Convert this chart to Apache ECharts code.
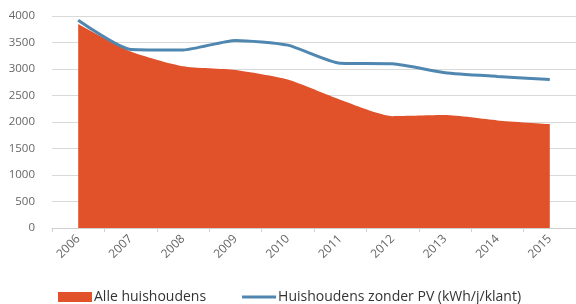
<!DOCTYPE html>
<html>
<head>
    <meta charset="utf-8" />
    <script src="https://cdn.jsdelivr.net/npm/echarts@6/dist/echarts.min.js"></script>
    <style>
        html, body { margin: 0; padding: 0; background: #fff; }
        #main { width: 576px; height: 304px; }
    </style>
</head>
<body>
    <div id="main"></div>
    <script type="text/javascript">
        var years = ['2006', '2007', '2008', '2009', '2010', '2011', '2012', '2013', '2014', '2015'];
        var alleHuishoudens = [3850, 3330, 3050, 2980, 2800, 2420, 2110, 2130, 2030, 1960];
        var zonderPV = [3920, 3370, 3360, 3540, 3450, 3110, 3100, 2930, 2860, 2800];
        var yTicks = [0, 500, 1000, 1500, 2000, 2500, 3000, 3500, 4000];

        var myChart = echarts.init(document.getElementById('main'));

        var option = {
            animation: false,
            backgroundColor: '#fff',
            textStyle: { fontFamily: 'Open Sans' },
            legend: {
                top: 285,
                left: 53,
                itemGap: 36,
                itemWidth: 34,
                itemHeight: 10,
                textStyle: { color: '#333', fontSize: 14, padding: [0, 0, 0, -3] },
                data: [
                    { name: 'Alle huishoudens', icon: 'path://M0,0 L34,0 L34,10 L0,10 Z' },
                    { name: 'Huishoudens zonder PV (kWh/j/klant)', icon: 'path://M0,0 L34,0 L34,3 L0,3 Z' }
                ]
            },
            grid: { left: 52, right: 0, top: 16, bottom: 76 },
            xAxis: {
                type: 'category',
                data: years,
                boundaryGap: true,
                axisLine: { lineStyle: { color: '#d0d0d0' } },
                axisTick: { show: true, length: 4, lineStyle: { color: '#d0d0d0' } },
                axisLabel: { rotate: 45, color: '#666', fontSize: 12, margin: 9 }
            },
            yAxis: {
                type: 'value',
                min: yTicks[0],
                max: yTicks[yTicks.length - 1],
                interval: 500,
                axisLine: { show: false },
                axisTick: { show: false },
                axisLabel: {
                    color: '#666', fontSize: 11.5, margin: 17,
                    formatter: function (v) { return String(v); }
                },
                splitLine: { lineStyle: { color: '#d9d9d9' } }
            },
            series: [
                {
                    name: 'Alle huishoudens',
                    type: 'line',
                    data: alleHuishoudens,
                    smooth: 0.2,
                    symbol: 'none',
                    lineStyle: { width: 0 },
                    itemStyle: { color: '#E2522A' },
                    areaStyle: { color: '#E2522A', opacity: 1 }
                },
                {
                    name: 'Huishoudens zonder PV (kWh/j/klant)',
                    type: 'line',
                    data: zonderPV,
                    smooth: 0.2,
                    symbol: 'none',
                    lineStyle: { width: 3, color: '#4F87B0' },
                    itemStyle: { color: '#4F87B0' }
                }
            ]
        };

        myChart.setOption(option);
    </script>
</body>
</html>
